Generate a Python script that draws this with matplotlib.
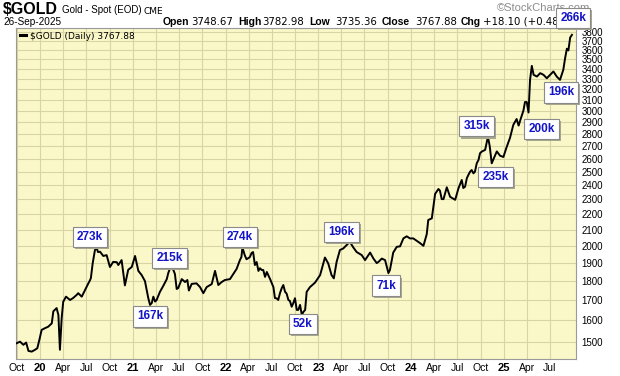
import matplotlib
matplotlib.use('Agg')
import matplotlib.pyplot as plt
import matplotlib.dates as mdates
import matplotlib.patheffects as pe
from matplotlib.ticker import FixedLocator, FixedFormatter, NullLocator, NullFormatter
import pandas as pd

W, H = 620, 376
BG = '#faf7c8'
GRID = '#d8d4a4'
BLUE = '#1414c8'

plt.rcParams['font.family'] = ['Liberation Sans', 'DejaVu Sans']

# $GOLD daily close
dates = [
    '2019-09-30', '2019-10-14', '2019-10-27', '2019-11-07', '2019-11-16', '2019-11-29',
    '2019-12-12', '2019-12-21', '2019-12-29',
    '2020-01-07', '2020-01-20', '2020-02-02', '2020-02-16', '2020-02-22', '2020-03-06',
    '2020-03-13', '2020-03-19', '2020-03-26', '2020-04-01', '2020-04-12', '2020-04-28',
    '2020-05-10', '2020-05-24', '2020-05-30', '2020-06-13', '2020-06-26', '2020-07-09',
    '2020-07-16', '2020-07-19', '2020-07-26', '2020-08-04', '2020-08-11', '2020-08-16',
    '2020-08-24', '2020-09-06', '2020-09-19', '2020-10-02', '2020-10-15', '2020-10-29',
    '2020-11-04', '2020-11-17', '2020-11-30', '2020-12-13', '2020-12-27',
    '2021-01-09', '2021-01-22', '2021-02-04', '2021-02-17', '2021-03-02', '2021-03-09',
    '2021-03-16', '2021-03-22', '2021-03-29', '2021-04-04', '2021-04-17', '2021-04-30',
    '2021-05-14', '2021-05-20', '2021-05-27', '2021-06-02', '2021-06-09', '2021-06-15',
    '2021-06-22', '2021-06-28', '2021-07-12', '2021-07-25', '2021-08-03', '2021-08-09',
    '2021-08-20', '2021-09-08', '2021-09-22', '2021-10-05', '2021-10-18', '2021-11-07',
    '2021-11-20', '2021-12-03', '2021-12-16', '2021-12-29',
    '2022-01-18', '2022-01-31', '2022-02-13', '2022-02-26', '2022-03-04', '2022-03-08',
    '2022-03-17', '2022-03-24', '2022-04-06', '2022-04-13', '2022-04-19', '2022-04-26',
    '2022-05-03', '2022-05-10', '2022-05-16', '2022-05-23', '2022-05-29', '2022-06-05',
    '2022-06-12', '2022-06-25', '2022-07-08', '2022-07-14', '2022-07-21', '2022-07-27',
    '2022-08-03', '2022-08-10', '2022-08-16', '2022-08-23', '2022-08-29', '2022-09-05',
    '2022-09-11', '2022-09-18', '2022-09-24', '2022-10-01', '2022-10-08', '2022-10-14',
    '2022-10-21', '2022-10-28', '2022-11-03', '2022-11-10', '2022-11-16', '2022-11-29',
    '2022-12-19',
    '2023-01-08', '2023-01-27', '2023-02-09', '2023-02-22', '2023-03-03', '2023-03-14',
    '2023-03-27', '2023-04-09', '2023-04-22', '2023-05-05', '2023-05-18', '2023-06-01',
    '2023-06-21', '2023-07-04', '2023-07-24', '2023-08-06', '2023-08-19', '2023-08-26',
    '2023-09-08', '2023-09-21', '2023-10-04', '2023-10-10', '2023-10-23', '2023-11-06',
    '2023-11-19', '2023-12-02', '2023-12-15', '2023-12-28',
    '2024-01-10', '2024-01-30', '2024-02-06', '2024-02-19', '2024-03-03', '2024-03-09',
    '2024-03-23', '2024-04-05', '2024-04-18', '2024-04-24', '2024-05-01', '2024-05-08',
    '2024-05-21', '2024-06-03', '2024-06-23', '2024-07-06', '2024-07-19', '2024-07-25',
    '2024-08-01', '2024-08-08', '2024-08-14', '2024-08-21', '2024-08-27', '2024-09-03',
    '2024-09-09', '2024-09-16', '2024-09-23', '2024-09-29', '2024-10-06', '2024-10-19',
    '2024-10-30', '2024-11-06', '2024-11-14', '2024-12-04', '2024-12-17', '2024-12-30',
    '2025-01-12', '2025-01-25', '2025-02-07', '2025-02-20', '2025-02-28', '2025-03-07',
    '2025-03-19', '2025-03-25', '2025-04-01', '2025-04-08', '2025-04-14', '2025-04-21',
    '2025-04-28', '2025-05-11', '2025-05-24', '2025-06-06', '2025-06-19', '2025-07-02',
    '2025-07-15', '2025-07-28', '2025-08-10', '2025-08-23', '2025-08-30', '2025-09-06',
    '2025-09-12', '2025-09-19', '2025-09-26',
]
close = [
    1494, 1501, 1487, 1497, 1460, 1457,
    1465, 1472, 1509,
    1555, 1563, 1570, 1586, 1644, 1660,
    1626, 1465, 1612, 1692, 1718, 1701,
    1711, 1727, 1736, 1718, 1753, 1788,
    1806, 1817, 1898, 1976, 1988, 1964,
    1966, 1941, 1946, 1878, 1907, 1905,
    1889, 1917, 1777, 1862, 1878,
    1941, 1856, 1833, 1800, 1711, 1676,
    1686, 1718, 1693, 1701, 1743, 1774,
    1811, 1845, 1871, 1870, 1861, 1839,
    1758, 1763, 1811, 1795, 1806, 1750,
    1785, 1788, 1768, 1736, 1768, 1784,
    1856, 1779, 1795, 1806,
    1811, 1839, 1867, 1917, 1935, 1991,
    1946, 1922, 1934, 1958, 1964, 1889,
    1906, 1856, 1871, 1861, 1861, 1823,
    1850, 1811, 1768, 1711, 1709, 1701,
    1737, 1763, 1779, 1743, 1734, 1701,
    1696, 1667, 1684, 1710, 1651, 1651,
    1676, 1626, 1641, 1651, 1743, 1768,
    1792,
    1833, 1932, 1898, 1833, 1815, 1907,
    1976, 1985, 2005, 2025, 1993, 1964,
    1946, 1917, 1961, 1926, 1900, 1907,
    1926, 1917, 1844, 1861, 1961, 1995,
    1998, 2046, 2059, 2046,
    2046, 2025, 2017, 2001, 2072, 2162,
    2173, 2338, 2373, 2361, 2302, 2302,
    2385, 2318, 2297, 2378, 2438, 2380,
    2389, 2451, 2475, 2500, 2512, 2487,
    2500, 2563, 2589, 2642, 2655, 2668,
    2775, 2700, 2563, 2656, 2622, 2612,
    2692, 2766, 2876, 2927, 2870, 2920,
    3003, 3080, 3080, 2985, 3292, 3433,
    3342, 3325, 3359, 3342, 3308, 3342,
    3376, 3325, 3292, 3393, 3512, 3614,
    3596, 3737, 3767.88,
]

# volume call-outs
vol_labels = ['273k', '167k', '215k', '274k', '52k', '196k', '71k',
              '315k', '235k', '200k', '196k', '266k']
vol_dates = ['2020-07-15', '2021-03-09', '2021-05-25', '2022-02-26', '2022-10-31',
             '2023-04-02', '2023-09-25', '2024-09-15', '2024-11-29', '2025-05-29',
             '2025-08-14', '2025-10-01']
vol_prices = [2054, 1619, 1928, 2054, 1582, 2085, 1776, 2864, 2459, 2840, 3170, 3963]

y_ticks = list(range(1500, 3900, 100))
x_ticks = pd.date_range('2019-10-01', '2025-07-01', freq='QS')
x_labels = [d.strftime('%y') if d.month == 1 else d.strftime('%b') for d in x_ticks]

fig = plt.figure(figsize=(W / 100, H / 100), dpi=100)
fig.patch.set_facecolor('white')
ax = fig.add_axes([16 / W, 1 - 359 / H, 560 / W, 331 / H])
ax.set_facecolor(BG)

ax.plot(pd.to_datetime(dates), close, color='black', lw=1.4, zorder=3,
        label='$GOLD (Daily) 3767.88')

ax.set_yscale('log')
ax.set_ylim(1425, 3846)
ax.set_xlim(pd.Timestamp('2019-09-28'), pd.Timestamp('2025-10-12'))
ax.yaxis.set_major_locator(FixedLocator(y_ticks))
ax.yaxis.set_major_formatter(FixedFormatter([str(v) for v in y_ticks]))
ax.yaxis.set_minor_locator(NullLocator())
ax.yaxis.set_minor_formatter(NullFormatter())
ax.yaxis.tick_right()
ax.tick_params(axis='y', length=0, pad=4, labelsize=7, colors='black')

ax.set_xticks(mdates.date2num(x_ticks))
ax.set_xticklabels(x_labels)
ax.tick_params(axis='x', length=0, pad=3, labelsize=7.5)
for lab in ax.get_xticklabels():
    if lab.get_text().isdigit():
        lab.set_fontweight('bold')
        lab.set_fontsize(8)

ax.grid(True, color=GRID, lw=0.8)
ax.set_axisbelow(True)
for s in ax.spines.values():
    s.set_color('#9a9a9a')
    s.set_linewidth(0.8)

leg = ax.legend(loc='upper left', frameon=False, handlelength=0.7,
                handletextpad=0.4, borderaxespad=0.1, borderpad=0.3,
                prop={'family': 'DejaVu Sans', 'size': 6.5})
leg.get_lines()[0].set_linewidth(2.2)

shadow = [pe.SimplePatchShadow(offset=(1.5, -1.5), shadow_rgbFace='#a8a890', alpha=1),
          pe.Normal()]
for lab, d, p in zip(vol_labels, vol_dates, vol_prices):
    t = ax.text(mdates.date2num(pd.Timestamp(d)), p, lab, ha='center', va='center',
                color=BLUE, fontsize=8.5, fontweight='bold', zorder=6, clip_on=False,
                bbox=dict(boxstyle='square,pad=0.35', fc='white', ec='#8a8a8a', lw=0.8))
    t.get_bbox_patch().set_path_effects(shadow)


def ftext(x, y, s, **kw):
    # header text sits under the axes so the 266k call-out covers it
    return fig.text(x / W, 1 - y / H, s, va='center', ha='left', zorder=-1, **kw)


ftext(3, 9, '$GOLD', fontsize=11.5, fontweight='bold')
ftext(62, 10, 'Gold - Spot (EOD)', fontsize=7)
ftext(144, 11, 'CME', fontsize=6.5, family='DejaVu Sans')
ftext(3, 22, '26-Sep-2025', fontsize=7.2)
ftext(497, 8, '\u00a9StockCharts.com', fontsize=8, color='#8c8c8c')

head = [('Open', True, 163), ('3748.67', False, 191), ('High', True, 238),
        ('3782.98', False, 262), ('Low', True, 309), ('3735.36', False, 335),
        ('Close', True, 382), ('3767.88', False, 415), ('Chg', True, 461),
        ('+18.10 (+0.48%)', False, 483)]
for s, bold, xp in head:
    if bold:
        ftext(xp, 22, s, fontsize=7.5, fontweight='bold')
    else:
        ftext(xp, 22, s, fontsize=7.3, family='DejaVu Sans')

fig.savefig('out.png', dpi=100)
